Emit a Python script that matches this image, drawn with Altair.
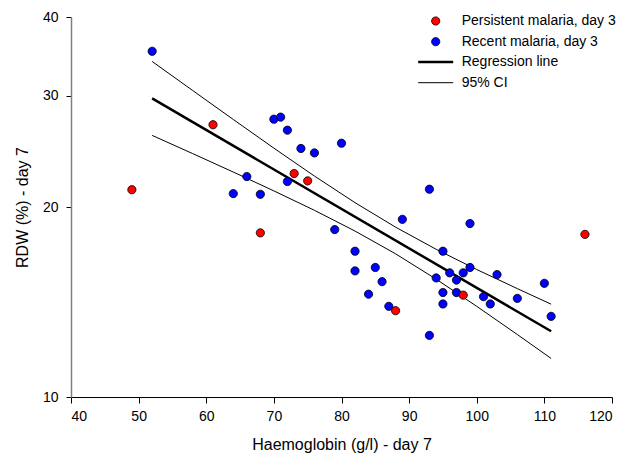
import altair as alt
import pandas as pd

# ---- data ----
hb_persistent = [49, 61, 68, 73, 75, 88, 98, 116]
rdw_persistent = [21.3, 27.0, 18.2, 22.6, 22.0, 13.7, 14.5, 18.1]

hb_recent = [52, 64, 66, 68, 70, 71, 72, 72, 74, 76, 79, 80, 82, 82, 84, 85, 86, 87,
             89, 93, 93, 94, 95, 95, 95, 96, 97, 97, 98, 99, 99, 101, 102, 103,
             106, 110, 111]
rdw_recent = [35.3, 21.0, 22.35, 20.95, 27.55, 27.76, 26.47, 21.95, 24.76, 24.36, 18.42,
              25.24, 17.02, 15.84, 14.55, 16.04, 15.23, 13.92, 19.12, 21.34, 12.52, 15.44,
              17.02, 14.64, 14.04, 15.73, 15.32, 14.64, 15.73, 18.83, 16.04, 14.42,
              14.04, 15.63, 14.33, 15.14, 13.42]

fit_hb = [52, 111]
fit_rdw = [29.72, 12.71]

ci_hb = [52, 58, 64, 70, 76, 82, 88, 94, 100, 106, 111]
ci_upper = [34.01, 30.59, 27.52, 24.79, 22.39, 20.32, 18.58, 17.14, 15.92, 14.85, 14.03]
ci_lower = [25.97, 24.30, 22.72, 21.21, 19.76, 18.32, 16.86, 15.37, 13.92, 12.56, 11.51]

group_names = ["Recent malaria, day 3", "Persistent malaria, day 3"]
legend_labels = ["Persistent malaria, day 3", "Recent malaria, day 3",
                 "Regression line", "95% CI"]

# ---- tables ----
pts = pd.concat([
    pd.DataFrame({"hb": hb_recent, "rdw": rdw_recent, "group": group_names[0]}),
    pd.DataFrame({"hb": hb_persistent, "rdw": rdw_persistent, "group": group_names[1]}),
], ignore_index=True)

fit = pd.DataFrame({"hb": fit_hb, "rdw": fit_rdw})
ci = pd.concat([
    pd.DataFrame({"hb": ci_hb, "rdw": ci_upper, "part": "upper"}),
    pd.DataFrame({"hb": ci_hb, "rdw": ci_lower, "part": "lower"}),
], ignore_index=True)

FONT = "Liberation Sans"

x_enc = alt.X("hb:Q",
              scale=alt.Scale(domain=[40, 120], nice=False, zero=False),
              axis=alt.Axis(values=list(range(40, 121, 10)), title="Haemoglobin (g/l) - day 7",
                            tickSize=6, labelPadding=6, titlePadding=13))
y_enc = alt.Y("rdw:Q",
              scale=alt.Scale(type="log", domain=[10, 40], nice=False),
              axis=alt.Axis(values=[10, 20, 30, 40], title="RDW (%) - day 7",
                            tickSize=5, labelPadding=8, titlePadding=12,
                            domainColor="#808080", domainWidth=1.5))

ci_layer = alt.Chart(ci).mark_line(color="black", strokeWidth=1).encode(
    x=x_enc, y=y_enc, detail="part:N")

fit_layer = alt.Chart(fit).mark_line(color="black", strokeWidth=2.5).encode(
    x=x_enc, y=y_enc)

point_layer = alt.Chart(pts).mark_point(
    filled=True, size=68, stroke="black", strokeWidth=0.8, opacity=1
).encode(
    x=x_enc, y=y_enc,
    fill=alt.Fill("group:N",
                  scale=alt.Scale(domain=group_names, range=["#0000ff", "#ff0000"]),
                  legend=None),
)

# ---- manual legend (top right) ----
row_y = [4, 24.7, 45, 65.7]
sym_x = 364.7
txt_x = 390.7
leg_layers = []
dot_colors = ["#ff0000", "#0000ff"]
for i, lbl in enumerate(legend_labels):
    d = pd.DataFrame({"label": [lbl]})
    if i < 2:
        leg_layers.append(alt.Chart(d).mark_point(
            filled=True, size=68, stroke="black", strokeWidth=0.8, opacity=1, fill=dot_colors[i]
        ).encode(x=alt.value(sym_x), y=alt.value(row_y[i])))
    else:
        leg_layers.append(alt.Chart(d).mark_rule(
            color="black", strokeWidth=2.5 if i == 2 else 1
        ).encode(x=alt.value(sym_x - 17.5), x2=alt.value(sym_x + 17.5), y=alt.value(row_y[i])))
    leg_layers.append(alt.Chart(d).mark_text(
        align="left", baseline="middle", fontSize=14, font=FONT, color="black"
    ).encode(x=alt.value(txt_x), y=alt.value(row_y[i]), text="label:N"))

chart = alt.layer(ci_layer, fit_layer, point_layer, *leg_layers).properties(
    width=541, height=380,
    autosize=alt.AutoSizeParams(type="none"),
    padding={"left": 63, "top": 9, "right": 5, "bottom": 57},
).configure_axis(
    labelFont=FONT, titleFont=FONT, labelFontSize=14, titleFontSize=16,
    labelColor="black", titleColor="black", titleFontWeight="normal",
    grid=False, tickColor="black", domainColor="black",
).configure_view(stroke=None)

chart.save("out.html", embed_options={"renderer": "svg", "actions": False})
